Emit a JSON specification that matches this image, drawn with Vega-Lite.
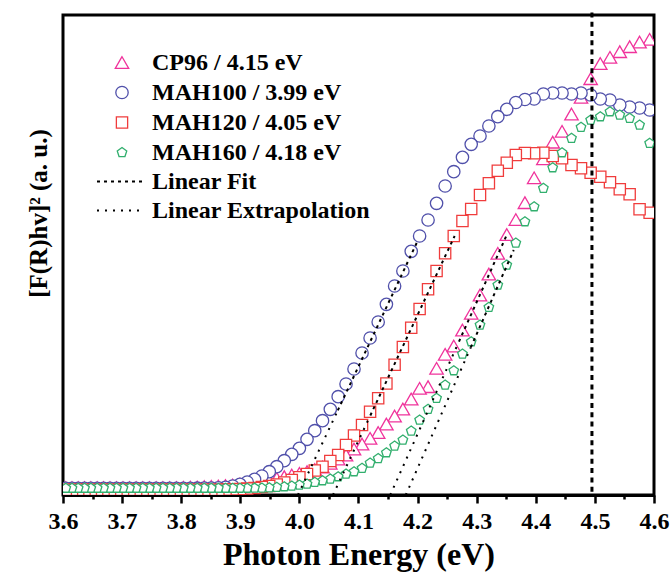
{
  "$schema": "https://vega.github.io/schema/vega-lite/v6.json",
  "width": 591,
  "height": 480,
  "autosize": "none",
  "padding": {"left": 63, "top": 15, "right": 17, "bottom": 79},
  "background": "white",
  "config": {"view": {"stroke": "black", "strokeWidth": 3}, "font": "Liberation Serif"},
  "datasets": {
    "spectra": [
      {"e": 4.6097, "CP96": null, "MAH100": 382, "MAH120": null, "MAH160": 333.3},
      {"e": 4.5926, "CP96": 455.7, "MAH100": 385, "MAH120": 282.3, "MAH160": 351.7},
      {"e": 4.5756, "CP96": 453, "MAH100": 387, "MAH120": 285.7, "MAH160": 370},
      {"e": 4.5588, "CP96": 448.3, "MAH100": 388, "MAH120": 300.7, "MAH160": 376.7},
      {"e": 4.5421, "CP96": 443.3, "MAH100": 390, "MAH120": 305.7, "MAH160": 380},
      {"e": 4.5255, "CP96": 437.7, "MAH100": 395, "MAH120": 312.7, "MAH160": 383.3},
      {"e": 4.5091, "CP96": 431.5, "MAH100": 396, "MAH120": 318.3, "MAH160": 378.3},
      {"e": 4.4928, "CP96": 416.3, "MAH100": 400, "MAH120": 322.3, "MAH160": 375},
      {"e": 4.4765, "CP96": 397.7, "MAH100": 402, "MAH120": 326.7, "MAH160": 367.7},
      {"e": 4.4604, "CP96": 381, "MAH100": 401, "MAH120": 330, "MAH160": 356.7},
      {"e": 4.4444, "CP96": 363.7, "MAH100": 402, "MAH120": 336.7, "MAH160": 342.3},
      {"e": 4.4286, "CP96": 352.8, "MAH100": 402, "MAH120": 339, "MAH160": 327.3},
      {"e": 4.4128, "CP96": 336.2, "MAH100": 401, "MAH120": 342.3, "MAH160": 306.7},
      {"e": 4.3972, "CP96": 317.2, "MAH100": 396, "MAH120": 341.7, "MAH160": 288.3},
      {"e": 4.3816, "CP96": 292.3, "MAH100": 395.5, "MAH120": 342, "MAH160": 273.3},
      {"e": 4.3662, "CP96": 275.4, "MAH100": 392.5, "MAH120": 340, "MAH160": 252},
      {"e": 4.3509, "CP96": 260.5, "MAH100": 385.7, "MAH120": 332.3, "MAH160": 230},
      {"e": 4.3357, "CP96": 241.7, "MAH100": 378.3, "MAH120": 324.3, "MAH160": 210},
      {"e": 4.3206, "CP96": 221, "MAH100": 369, "MAH120": 311.7, "MAH160": 187.7},
      {"e": 4.3056, "CP96": 200, "MAH100": 359, "MAH120": 300, "MAH160": 170},
      {"e": 4.2907, "CP96": 181.7, "MAH100": 350.7, "MAH120": 286, "MAH160": 153.3},
      {"e": 4.2759, "CP96": 165, "MAH100": 337.7, "MAH120": 274, "MAH160": 141},
      {"e": 4.2612, "CP96": 149, "MAH100": 323.3, "MAH120": 259, "MAH160": 124.3},
      {"e": 4.2466, "CP96": 140.7, "MAH100": 309, "MAH120": 241.7, "MAH160": 110},
      {"e": 4.2321, "CP96": 126.7, "MAH100": 291.7, "MAH120": 224, "MAH160": 96.7},
      {"e": 4.2177, "CP96": 108.3, "MAH100": 275, "MAH120": 205.7, "MAH160": 85.7},
      {"e": 4.2034, "CP96": 106.7, "MAH100": 259, "MAH120": 186, "MAH160": 75},
      {"e": 4.1892, "CP96": 96, "MAH100": 243.7, "MAH120": 167.3, "MAH160": 64},
      {"e": 4.1751, "CP96": 86, "MAH100": 224, "MAH120": 148, "MAH160": 55},
      {"e": 4.1611, "CP96": 79, "MAH100": 209, "MAH120": 130.3, "MAH160": 49},
      {"e": 4.1472, "CP96": 71, "MAH100": 190.7, "MAH120": 111.5, "MAH160": 42.3},
      {"e": 4.1333, "CP96": 62.5, "MAH100": 173, "MAH120": 96.7, "MAH160": 36.5},
      {"e": 4.1196, "CP96": 56.7, "MAH100": 157, "MAH120": 83.3, "MAH160": 32},
      {"e": 4.1060, "CP96": 51, "MAH100": 142, "MAH120": 70, "MAH160": 26.7},
      {"e": 4.0924, "CP96": 46, "MAH100": 126, "MAH120": 59.5, "MAH160": 23.3},
      {"e": 4.0789, "CP96": 40, "MAH100": 111, "MAH120": 50, "MAH160": 21},
      {"e": 4.0656, "CP96": 36, "MAH100": 98.3, "MAH120": 40, "MAH160": 18.3},
      {"e": 4.0523, "CP96": 31.7, "MAH100": 85.7, "MAH120": 34, "MAH160": 16},
      {"e": 4.0391, "CP96": 28, "MAH100": 74.3, "MAH120": 28.3, "MAH160": 14.3},
      {"e": 4.0260, "CP96": 25.5, "MAH100": 64.3, "MAH120": 24.5, "MAH160": 12.7},
      {"e": 4.0129, "CP96": 23.3, "MAH100": 55.7, "MAH120": 21, "MAH160": 11},
      {"e": 4.0000, "CP96": 21.7, "MAH100": 46.7, "MAH120": 17.7, "MAH160": 10},
      {"e": 3.9871, "CP96": 20, "MAH100": 40.7, "MAH120": 15, "MAH160": 9},
      {"e": 3.9744, "CP96": 18.3, "MAH100": 34.3, "MAH120": 12.5, "MAH160": 8.3},
      {"e": 3.9617, "CP96": 16.7, "MAH100": 28.3, "MAH120": 10.5, "MAH160": 7.7},
      {"e": 3.9490, "CP96": 15.3, "MAH100": 23.3, "MAH120": 9, "MAH160": 7.2},
      {"e": 3.9365, "CP96": 14, "MAH100": 19, "MAH120": 8, "MAH160": 7},
      {"e": 3.9241, "CP96": 13, "MAH100": 15.7, "MAH120": 7, "MAH160": 6.9},
      {"e": 3.9117, "CP96": 12, "MAH100": 13, "MAH120": 6.5, "MAH160": 6.8},
      {"e": 3.8994, "CP96": 11, "MAH100": 10.7, "MAH120": 6, "MAH160": 6.8},
      {"e": 3.8871, "CP96": 10, "MAH100": 9, "MAH120": 5.7, "MAH160": 6.8},
      {"e": 3.8750, "CP96": 9.5, "MAH100": 7.7, "MAH120": 5.5, "MAH160": 6.8},
      {"e": 3.8629, "CP96": 9, "MAH100": 7.2, "MAH120": 5.2, "MAH160": 6.8},
      {"e": 3.8509, "CP96": 8.6, "MAH100": 7, "MAH120": 5.2, "MAH160": 6.8},
      {"e": 3.8390, "CP96": 8.3, "MAH100": 6.9, "MAH120": 5.2, "MAH160": 6.8},
      {"e": 3.8272, "CP96": 8, "MAH100": 6.8, "MAH120": 5.2, "MAH160": 6.8},
      {"e": 3.8154, "CP96": 7.8, "MAH100": 6.7, "MAH120": 5.2, "MAH160": 6.8},
      {"e": 3.8037, "CP96": 7.6, "MAH100": 6.7, "MAH120": 5.2, "MAH160": 6.8},
      {"e": 3.7920, "CP96": 7.5, "MAH100": 6.7, "MAH120": 5.2, "MAH160": 6.8},
      {"e": 3.7805, "CP96": 7.4, "MAH100": 6.7, "MAH120": 5.2, "MAH160": 6.8},
      {"e": 3.7690, "CP96": 7.4, "MAH100": 6.7, "MAH120": 5.2, "MAH160": 6.8},
      {"e": 3.7576, "CP96": 7.4, "MAH100": 6.7, "MAH120": 5.2, "MAH160": 6.8},
      {"e": 3.7462, "CP96": 7.4, "MAH100": 6.7, "MAH120": 5.2, "MAH160": 6.8},
      {"e": 3.7349, "CP96": 7.4, "MAH100": 6.7, "MAH120": 5.2, "MAH160": 6.8},
      {"e": 3.7237, "CP96": 7.4, "MAH100": 6.7, "MAH120": 5.2, "MAH160": 6.8},
      {"e": 3.7126, "CP96": 7.4, "MAH100": 6.7, "MAH120": 5.2, "MAH160": 6.8},
      {"e": 3.7015, "CP96": 7.4, "MAH100": 6.7, "MAH120": 5.2, "MAH160": 6.8},
      {"e": 3.6905, "CP96": 7.4, "MAH100": 6.7, "MAH120": 5.2, "MAH160": 6.8},
      {"e": 3.6795, "CP96": 7.4, "MAH100": 6.7, "MAH120": 5.2, "MAH160": 6.8},
      {"e": 3.6686, "CP96": 7.4, "MAH100": 6.7, "MAH120": 5.2, "MAH160": 6.8},
      {"e": 3.6578, "CP96": 7.4, "MAH100": 6.7, "MAH120": 5.2, "MAH160": 6.8},
      {"e": 3.6471, "CP96": 7.4, "MAH100": 6.7, "MAH120": 5.2, "MAH160": 6.8},
      {"e": 3.6364, "CP96": 7.4, "MAH100": 6.7, "MAH120": 5.2, "MAH160": 6.8},
      {"e": 3.6257, "CP96": 7.4, "MAH100": 6.7, "MAH120": 5.2, "MAH160": 6.8},
      {"e": 3.6152, "CP96": 7.4, "MAH100": 6.7, "MAH120": 5.2, "MAH160": 6.8},
      {"e": 3.6047, "CP96": 7.4, "MAH100": 6.7, "MAH120": 5.2, "MAH160": 6.8}
    ],
    "fits": [
      {"g": "CP96", "kind": "Linear Extrapolation", "e": 4.1537, "v": 0},
      {"g": "CP96", "kind": "Linear Extrapolation", "e": 4.27, "v": 153.4},
      {"g": "CP96", "kind": "Linear Fit", "e": 4.27, "v": 153.4},
      {"g": "CP96", "kind": "Linear Fit", "e": 4.3508, "v": 260},
      {"g": "MAH100", "kind": "Linear Extrapolation", "e": 3.9975, "v": 0},
      {"g": "MAH100", "kind": "Linear Extrapolation", "e": 4.065, "v": 84.6},
      {"g": "MAH100", "kind": "Linear Fit", "e": 4.065, "v": 84.6},
      {"g": "MAH100", "kind": "Linear Fit", "e": 4.1995, "v": 253.3},
      {"g": "MAH120", "kind": "Linear Extrapolation", "e": 4.0568, "v": 0},
      {"g": "MAH120", "kind": "Linear Extrapolation", "e": 4.12, "v": 79.5},
      {"g": "MAH120", "kind": "Linear Fit", "e": 4.12, "v": 79.5},
      {"g": "MAH120", "kind": "Linear Fit", "e": 4.2627, "v": 259},
      {"g": "MAH160", "kind": "Linear Extrapolation", "e": 4.18, "v": 0},
      {"g": "MAH160", "kind": "Linear Extrapolation", "e": 4.29, "v": 147.6},
      {"g": "MAH160", "kind": "Linear Fit", "e": 4.29, "v": 147.6},
      {"g": "MAH160", "kind": "Linear Fit", "e": 4.3627, "v": 245}
    ],
    "vline": [{"e": 4.495, "v": 3.3, "v2": 483.3}]
  },
  "encoding": {
    "x": {
      "field": "e", "type": "quantitative", "title": "Photon Energy (eV)",
      "scale": {"domain": [3.6, 4.6], "nice": false, "zero": false},
      "axis": {
        "values": [3.6, 3.65, 3.7, 3.75, 3.8, 3.85, 3.9, 3.95, 4.0, 4.05, 4.1, 4.15, 4.2, 4.25, 4.3, 4.35, 4.4, 4.45, 4.5, 4.55, 4.6],
        "labelExpr": "abs(datum.value*10-round(datum.value*10))<0.01 ? format(datum.value,'.1f') : ''",
        "tickSize": {"condition": {"test": "abs(datum.value*10-round(datum.value*10))<0.01", "value": 8}, "value": 4},
        "tickWidth": 2.5, "tickColor": "black", "domainColor": "black", "domainWidth": 3,
        "labelFont": "Liberation Serif", "labelFontWeight": "bold", "labelFontSize": 24, "labelColor": "black",
        "labelPadding": 6, "labelFlush": false, "labelOverlap": false, "labelBound": false,
        "titleFont": "Liberation Serif", "titleFontWeight": "bold", "titleFontSize": 32, "titleColor": "black", "titlePadding": 6,
        "grid": false
      }
    },
    "y": {
      "field": "v", "type": "quantitative", "title": "[F(R)hv]² (a. u.)",
      "scale": {"domain": [0, 480], "nice": false, "zero": false},
      "axis": {
        "domain": false, "ticks": false, "labels": false, "grid": false,
        "titleFont": "Liberation Serif", "titleFontWeight": "bold", "titleFontSize": 25, "titleColor": "black", "titlePadding": 12,
        "titleY": 198
      }
    }
  },
  "layer": [
    {
      "data": {"name": "spectra"},
      "transform": [{"fold": ["CP96", "MAH100", "MAH120", "MAH160"], "as": ["series", "v"]}],
      "mark": {"type": "point", "filled": false, "fill": "white", "opacity": 1, "strokeWidth": 1.3, "clip": true},
      "encoding": {
        "order": {"field": "series", "type": "ordinal"},
        "size": {
          "field": "series", "type": "nominal", "legend": null,
          "scale": {"domain": ["CP96", "MAH100", "MAH120", "MAH160"], "range": [180, 100, 87, 230]}
        },
        "color": {
          "field": "series", "type": "nominal",
          "scale": {"domain": ["CP96", "MAH100", "MAH120", "MAH160"], "range": ["#F0339C", "#5050AA", "#F03C3C", "#32AF6E"]},
          "legend": {
            "title": null, "orient": "none", "legendX": 47, "legendY": 35.5, "padding": 0, "labelLimit": 0,
            "labelExpr": "datum.label == 'CP96' ? 'CP96 / 4.15 eV' : datum.label == 'MAH100' ? 'MAH100 / 3.99 eV' : datum.label == 'MAH120' ? 'MAH120 / 4.05 eV' : 'MAH160 / 4.18 eV'",
            "labelFont": "Liberation Serif", "labelFontWeight": "bold", "labelFontSize": 24, "labelColor": "black",
            "labelOffset": 18, "rowPadding": 6, "symbolStrokeWidth": 1.3
          }
        },
        "shape": {
          "field": "series", "type": "nominal",
          "scale": {"domain": ["CP96", "MAH100", "MAH120", "MAH160"], "range": ["triangle-up", "circle", "square", "M0,-1L0.951,-0.309L0.588,0.809L-0.588,0.809L-0.951,-0.309Z"]},
          "legend": {
            "title": null, "orient": "none", "legendX": 47, "legendY": 35.5, "padding": 0, "labelLimit": 0,
            "labelExpr": "datum.label == 'CP96' ? 'CP96 / 4.15 eV' : datum.label == 'MAH100' ? 'MAH100 / 3.99 eV' : datum.label == 'MAH120' ? 'MAH120 / 4.05 eV' : 'MAH160 / 4.18 eV'",
            "labelFont": "Liberation Serif", "labelFontWeight": "bold", "labelFontSize": 24, "labelColor": "black",
            "labelOffset": 18, "rowPadding": 6, "symbolStrokeWidth": 1.3
          }
        }
      }
    },
    {
      "data": {"name": "fits"},
      "mark": {"type": "line", "color": "black", "strokeWidth": 2},
      "encoding": {
        "detail": {"field": "g", "type": "nominal"},
        "strokeDash": {
          "field": "kind", "type": "nominal",
          "scale": {"domain": ["Linear Fit", "Linear Extrapolation"], "range": [[3, 4], [2, 6]]},
          "legend": {
            "title": null, "orient": "none", "legendX": 33, "legendY": 154.5, "padding": 0, "labelLimit": 0,
            "labelFont": "Liberation Serif", "labelFontWeight": "bold", "labelFontSize": 24, "labelColor": "black",
            "labelOffset": 7, "rowPadding": 5, "clipHeight": 24, "symbolType": "stroke", "symbolSize": 2209,
            "symbolStrokeColor": "black", "symbolStrokeWidth": 2
          }
        }
      }
    },
    {
      "data": {"name": "vline"},
      "mark": {"type": "rule", "color": "black", "strokeWidth": 3, "strokeDash": [5, 4.3], "clip": false},
      "encoding": {"y2": {"field": "v2"}}
    }
  ]
}
